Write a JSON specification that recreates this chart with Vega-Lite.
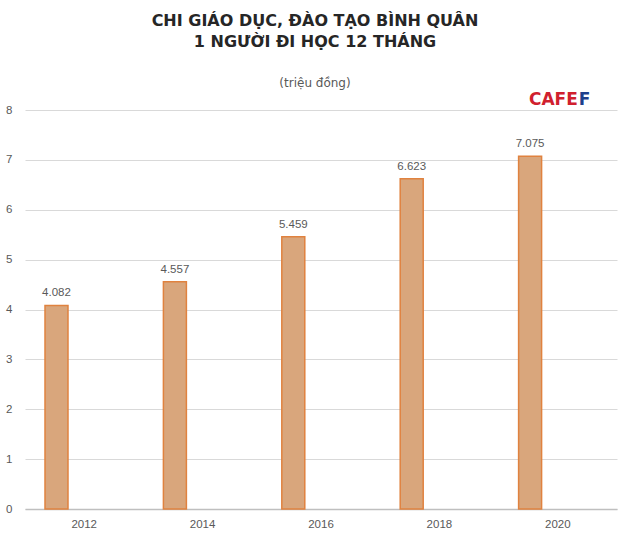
{
  "$schema": "https://vega.github.io/schema/vega-lite/v6.json",
  "width": 592,
  "height": 399,
  "autosize": {"type": "none"},
  "padding": {"left": 25, "top": 110, "right": 13, "bottom": 29},
  "background": "white",
  "title": {
    "text": ["CHI GIÁO DỤC, ĐÀO TẠO BÌNH QUÂN", "1 NGƯỜI ĐI HỌC 12 THÁNG"],
    "subtitle": "(triệu đồng)",
    "anchor": "middle",
    "dx": -6,
    "font": "DejaVu Sans",
    "fontSize": 16,
    "fontWeight": "bold",
    "color": "#262626",
    "lineHeight": 21,
    "subtitleFont": "DejaVu Sans",
    "subtitleFontSize": 12,
    "subtitleColor": "#595959",
    "subtitlePadding": 28,
    "offset": 2
  },
  "config": {"view": {"stroke": null}},
  "layer": [
    {
      "data": {"values": [
        {"year": "2012", "value": 4.082, "series": "A"},
        {"year": "2014", "value": 4.557, "series": "A"},
        {"year": "2016", "value": 5.459, "series": "A"},
        {"year": "2018", "value": 6.623, "series": "A"},
        {"year": "2020", "value": 7.075, "series": "A"}
      ]},
      "layer": [
        {
          "mark": {"type": "bar", "fill": "#D9A67C", "stroke": "#E0823F", "strokeWidth": 1.5},
          "encoding": {
            "x": {"field": "year", "type": "nominal", "scale": {"paddingInner": 0, "paddingOuter": 0},
              "axis": {"labelAngle": 0, "title": null, "ticks": false, "domainColor": "#BFBFBF", "domainWidth": 1.5, "labelColor": "#595959", "labelFont": "Liberation Sans", "labelFontSize": 11.5, "labelPadding": 9}},
            "xOffset": {"field": "series", "scale": {"domain": ["A", "B", "C"], "paddingInner": 0.17, "paddingOuter": 0.722}},
            "y": {"field": "value", "type": "quantitative", "scale": {"domain": [0, 8]},
              "axis": {"values": [0, 1, 2, 3, 4, 5, 6, 7, 8], "title": null, "domain": false, "ticks": false, "gridColor": "#D9D9D9", "gridWidth": 1, "labelColor": "#595959", "labelFont": "Liberation Sans", "labelFontSize": 11.5, "labelPadding": 13}}
          }
        },
        {
          "mark": {"type": "text", "baseline": "bottom", "dy": -7, "font": "Liberation Sans", "fontSize": 11.5, "color": "#595959"},
          "encoding": {
            "x": {"field": "year", "type": "nominal"},
            "xOffset": {"field": "series"},
            "y": {"field": "value", "type": "quantitative"},
            "text": {"field": "value", "type": "quantitative", "format": ".3f"}
          }
        }
      ]
    },
    {
      "data": {"values": [{"logo": "CAFE"}]},
      "mark": {"type": "text", "align": "right", "baseline": "middle", "dx": 20, "font": "DejaVu Sans", "fontSize": 17, "fontWeight": "bold", "color": "#D0202E"},
      "encoding": {
        "x": {"datum": "2020"},
        "y": {"datum": 8.2},
        "text": {"field": "logo"}
      }
    },
    {
      "data": {"values": [{"logo": "F"}]},
      "mark": {"type": "text", "align": "left", "baseline": "middle", "dx": 21, "font": "DejaVu Sans", "fontSize": 17, "fontWeight": "bold", "color": "#1D3F8C"},
      "encoding": {
        "x": {"datum": "2020"},
        "y": {"datum": 8.2},
        "text": {"field": "logo"}
      }
    }
  ]
}
